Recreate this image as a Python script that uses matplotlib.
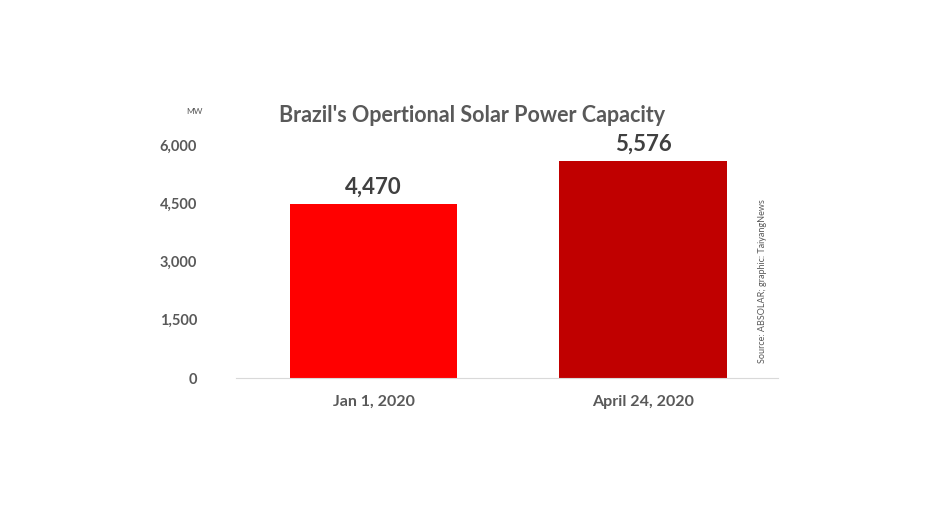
import matplotlib
matplotlib.use("Agg")
import matplotlib.pyplot as plt

categories = ["Jan 1, 2020", "April 24, 2020"]
values = [4470, 5576]
value_labels = ["4,470", "5,576"]
yticks = [0, 1500, 3000, 4500, 6000]
ytick_labels = ["0", "1,500", "3,000", "4,500", "6,000"]
colors = ["#FF0000", "#C00000"]

plt.rcParams['font.family'] = ['Lato', 'DejaVu Sans']

fig = plt.figure(figsize=(9.44, 5.31), dpi=100)
ax = fig.add_axes([0.25, 0.288, 0.574, 0.439])
x = list(range(len(categories)))
bars = ax.bar(x, values, width=0.62, color=colors, zorder=2)
ax.set_xlim(-0.51, 1.5)
ax.set_ylim(0, 6000)
ax.set_yticks(yticks)
ax.set_yticklabels(ytick_labels, fontsize=10.5, fontweight='bold', color='#595959')
ax.set_xticks(x)
ax.set_xticklabels(categories, fontsize=11.5, fontweight='bold', color='#595959')
ax.tick_params(axis='both', length=0)
ax.tick_params(axis='y', pad=28)
ax.tick_params(axis='x', pad=12)
for s in ['top', 'right', 'left']:
    ax.spines[s].set_visible(False)
ax.spines['bottom'].set_color('#D9D9D9')
for xi, v, lab in zip(x, values, value_labels):
    ax.annotate(lab, (xi, v), xytext=(0, 5), textcoords='offset points',
                ha='center', va='bottom', fontsize=16, fontweight='bold', color='#404040')

fig.text(0.5, 0.783, "Brazil's Opertional Solar Power Capacity", ha='center', va='center',
         fontsize=15.5, fontweight='bold', color='#595959')
fig.text(0.197, 0.79, "MW", ha='left', va='center', fontsize=6, color='#595959')
fig.text(0.808, 0.47, "Source: ABSOLAR; graphic: TaiyangNews", rotation=90, ha='center', va='center',
         fontsize=6.5, color='#595959')

fig.savefig("out.png", dpi=100)
